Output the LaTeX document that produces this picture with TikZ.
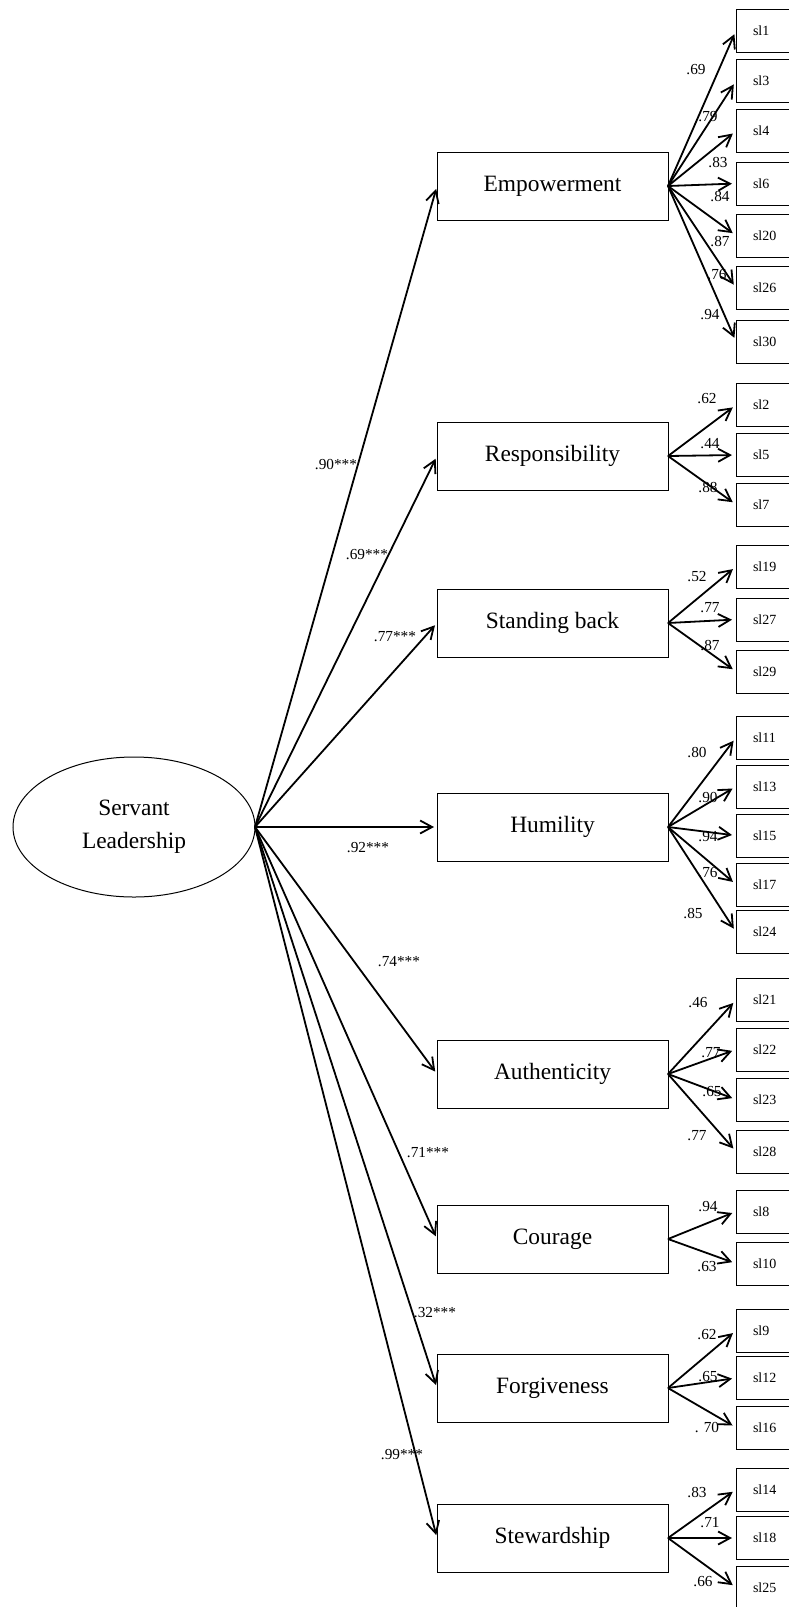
\documentclass[tikz,border=0pt]{standalone}
\usepackage{fontspec}
\setmainfont{Liberation Serif}
\usetikzlibrary{arrows.meta}
\usetikzlibrary{shapes.geometric}

\begin{document}
\begin{tikzpicture}[x=1pt,y=-1pt,inner sep=0pt,outer sep=0pt,
latent/.style={draw,ellipse,minimum width=242pt,minimum height=140pt,line width=1pt,align=center,font=\fontsize{23.4}{33}\selectfont},
factor/.style={draw,rectangle,minimum width=231pt,minimum height=68pt,line width=1pt,font=\fontsize{23.4}{28}\selectfont},
item/.style={draw,rectangle,anchor=west,minimum height=43pt,text width=40pt,inner xsep=17pt,align=left,line width=1pt,font=\fontsize{14}{16}\selectfont},
load/.style={font=\fontsize{15.3}{18}\selectfont},
arr/.style={-{Straight Barb[length=12pt,width=13pt]},line width=1.8pt,shorten >=3pt}]

\useasboundingbox (0,0) rectangle (789,1607);

\draw (134,827) node[latent] (sl) {Servant\\Leadership};

\draw (552.5,186) node[factor] (emp) {Empowerment};
\draw (552.5,456) node[factor] (res) {Responsibility};
\draw (552.5,623) node[factor] (stb) {Standing back};
\draw (552.5,827) node[factor] (hum) {Humility};
\draw (552.5,1074) node[factor] (aut) {Authenticity};
\draw (552.5,1239) node[factor] (cou) {Courage};
\draw (552.5,1388) node[factor] (forg) {Forgiveness};
\draw (552.5,1538) node[factor] (ste) {Stewardship};

\foreach \f/\v/\lx/\ly in {emp/.90***/336/465, res/.69***/367/555, stb/.77***/395/637, hum/.92***/368/848,
  aut/.74***/399/962, cou/.71***/428/1153, forg/.32***/435/1313, ste/.99***/402/1455} {
  \draw[arr] (sl.east) -- (\f.west);
  \node[load] (\f-l) at (\lx,\ly) {\v};
}

\foreach \f/\i/\y/\t/\v/\lx/\ly in {
  emp/1/30.5/sl1/.69/696/70, emp/2/81/sl3/.79/708/117, emp/3/131/sl4/.83/718/163,
  emp/4/183.5/sl6/.84/720/197, emp/5/235.5/sl20/.87/720/242, emp/6/288/sl26/.76/717/275,
  emp/7/341.5/sl30/.94/710/315,
  res/1/405/sl2/.62/707/399, res/2/455/sl5/.44/710/444, res/3/504.5/sl7/.88/708/488,
  stb/1/566.5/sl19/.52/697/577, stb/2/619.5/sl27/.77/710/608, stb/3/671.5/sl29/.87/710/646,
  hum/1/737.5/sl11/.80/697/753, hum/2/786.5/sl13/.90/708/798, hum/3/835.5/sl15/.94/708/837,
  hum/4/884.5/sl17/.76/708/873, hum/5/932/sl24/.85/693/914,
  aut/1/1000/sl21/.46/698/1003, aut/2/1049.5/sl22/.77/711/1053, aut/3/1099.5/sl23/.65/712/1092,
  aut/4/1151.5/sl28/.77/697/1136,
  cou/1/1211.5/sl8/.94/708/1207, cou/2/1263.5/sl10/.63/707/1267,
  forg/1/1330.5/sl9/.62/707/1335, forg/2/1378/sl12/.65/708/1377, forg/3/1427.5/sl16/. 70/707/1428,
  ste/1/1489.5/sl14/.83/697/1493, ste/2/1538/sl18/.71/710/1523, ste/3/1587.5/sl25/.66/703/1582} {
  \node[item] (\f-\i) at (736,\y) {\t};
  \draw[arr,shorten >=4pt] (\f.east) -- (\f-\i.west);
  \node[load] (\f-\i-l) at (\lx,\ly) {\v};
}
\end{tikzpicture}
\end{document}
